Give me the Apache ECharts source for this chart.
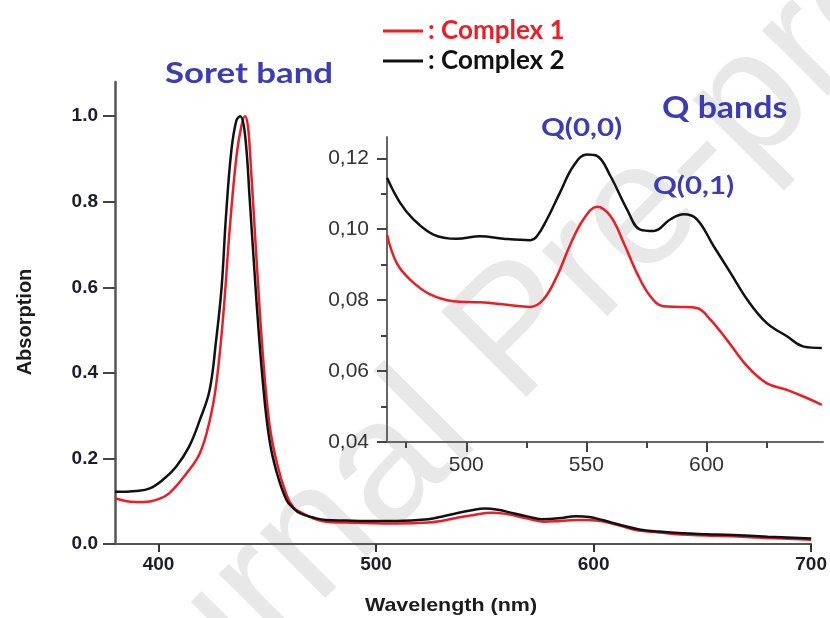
<!DOCTYPE html>
<html><head><meta charset="utf-8">
<script src="https://cdn.jsdelivr.net/npm/echarts@6/dist/echarts.min.js"></script>
<style>html,body{margin:0;padding:0;background:#fff}#c{width:830px;height:618px}</style>
</head><body><div id="c"></div>
<script>
// ---- main spectrum (Soret region + full range) ----
const wlComplex1 = [380,387,393,399,405,413,419,423.6,426.6,429.7,432.8,435.8,438,439.7,441,442,445,448,451,454.4,458.8,462,465,471,477,486,495,509,524,530,537,545,553,559,565,571,577,585,592,598,605,612,620,630,640,652,664,680,700];
const absComplex1 = [0.107,0.099,0.098,0.103,0.119,0.166,0.212,0.29,0.376,0.531,0.741,0.905,0.975,1.0,0.98,0.92,0.67,0.44,0.28,0.19,0.115,0.085,0.075,0.06,0.052,0.050,0.049,0.048,0.050,0.054,0.061,0.068,0.073,0.071,0.065,0.058,0.052,0.054,0.056,0.056,0.052,0.043,0.032,0.027,0.022,0.020,0.018,0.014,0.010];
const wlComplex2 = [380,390,396,402,408,414,419,423.5,426.5,429,431,433.5,435.8,437.5,439.7,442,445,448,451,454.4,458.8,462,465,471,477,486,495,509,524,531,537,544,550,556,563,570,576,584,592,598,604,612,621,630,641,652,664,680,700];
const absComplex2 = [0.122,0.124,0.13,0.15,0.18,0.227,0.29,0.36,0.477,0.60,0.765,0.92,0.99,1.0,0.96,0.80,0.57,0.376,0.243,0.166,0.103,0.084,0.072,0.062,0.056,0.055,0.054,0.054,0.058,0.065,0.072,0.079,0.083,0.080,0.072,0.064,0.058,0.060,0.065,0.063,0.056,0.045,0.034,0.029,0.025,0.023,0.021,0.017,0.013];
// ---- inset (Q bands) ----
const insetWl1 = [467,471,476.6,485,494.6,505.8,516.9,526.6,532,537.7,543,548.8,554.4,560,565.5,571,576.6,582,589,596,601.6,608.5,617,625,633.5,641.8,648];
const insetAbs1 = [0.0985,0.0905,0.0858,0.0816,0.0797,0.0794,0.0787,0.0781,0.0801,0.0867,0.0952,0.1028,0.1063,0.1037,0.0962,0.0877,0.0811,0.0783,0.0781,0.0778,0.0745,0.0688,0.0613,0.0566,0.0547,0.0524,0.0505];
const insetWl2 = [467,472.4,478,486.3,496,505.8,515.5,526.6,529.4,533.6,539,544.6,550.2,554.4,560,566.9,572.4,578,585,590.5,596,603,610,617,625,633.5,640.5,648];
const insetAbs2 = [0.1145,0.1075,0.1028,0.0985,0.0973,0.098,0.0973,0.0969,0.098,0.1028,0.1103,0.1178,0.1211,0.1207,0.115,0.1056,0.0999,0.0995,0.1028,0.1042,0.1028,0.0952,0.0877,0.0801,0.0736,0.0698,0.0669,0.0665];
// ---- ticks ----
const mainXTicks = [400,500,600,700];
const mainYTicks = [0,0.2,0.4,0.6,0.8,1.0];
const insetXTicks = [500,550,600];
const insetXMinor = [475,525,575,625];
const insetYTicks = [0.04,0.06,0.08,0.10,0.12];
const insetYMinor = [0.05,0.07,0.09,0.11];

const RED = '#ee1c25', BLACK = '#111111', BLUE = '#3b3cb8';
const zip = (a,b) => a.map((v,i)=>[v,b[i]]);
const chart = echarts.init(document.getElementById('c'));
const axisCol = '#555';
const mainLbl = {fontFamily:'Liberation Sans', fontWeight:'bold', fontSize:19, color:'#1c1c2a'};
const insLbl = {fontFamily:'Liberation Sans', fontSize:21, color:'#333'};
chart.setOption({
  animation:false,
  backgroundColor:'#fff',
  grid:[
    {left:115, right:18, top:82, bottom:74},
    {left:387, right:7, top:137, bottom:176}
  ],
  xAxis:[
    {gridIndex:0, type:'value', position:'bottom', min:380, max:700, splitLine:{show:false},
     axisLine:{lineStyle:{color:axisCol, width:2}},
     axisTick:{customValues:mainXTicks, length:8, lineStyle:{color:'#333', width:2}},
     axisLabel:Object.assign({customValues:mainXTicks, margin:11}, mainLbl)},
    {gridIndex:1, type:'value', position:'bottom', min:467, max:648.5, splitLine:{show:false},
     axisLine:{lineStyle:{color:'#666', width:2}},
     axisTick:{customValues:insetXTicks, length:10, lineStyle:{color:'#444', width:2}},
     axisLabel:Object.assign({customValues:insetXTicks, margin:13}, insLbl)},
    {gridIndex:1, type:'value', position:'bottom', min:467, max:648.5, splitLine:{show:false},
     axisLine:{show:false},
     axisTick:{customValues:insetXMinor, length:6, lineStyle:{color:'#444', width:2}},
     axisLabel:{show:false}}
  ],
  yAxis:[
    {gridIndex:0, type:'value', position:'left', min:0, max:1.08, splitLine:{show:false},
     axisLine:{show:true, lineStyle:{color:axisCol, width:2.5}},
     axisTick:{show:true, customValues:mainYTicks, length:12, lineStyle:{color:'#444', width:2}},
     axisLabel:Object.assign({customValues:mainYTicks, margin:17, formatter:v=>v.toFixed(1)}, mainLbl)},
    {gridIndex:1, type:'value', position:'left', min:0.04, max:0.126, splitLine:{show:false},
     axisLine:{show:true, lineStyle:{color:'#666', width:2}},
     axisTick:{show:true, customValues:insetYTicks, length:10, lineStyle:{color:'#444', width:2}},
     axisLabel:Object.assign({customValues:insetYTicks, margin:18, formatter:v=>v.toFixed(2).replace('.',',')}, insLbl)},
    {gridIndex:1, type:'value', position:'left', min:0.04, max:0.126, splitLine:{show:false},
     axisLine:{show:false},
     axisTick:{show:true, customValues:insetYMinor, length:6, lineStyle:{color:'#444', width:2}},
     axisLabel:{show:false}}
  ],
  legend:{
    orient:'vertical', left:378, top:13, itemWidth:40, itemHeight:3, itemGap:4, icon:'rect',
    formatter:': {name}',
    textStyle:{fontFamily:'Lato', fontWeight:'bold', fontSize:26},
    data:[{name:'Complex 1', textStyle:{color:RED}}, {name:'Complex 2', textStyle:{color:BLACK}}]
  },
  series:[
    {name:'Complex 1', type:'line', xAxisIndex:0, yAxisIndex:0, data:zip(wlComplex1,absComplex1), smooth:0.4, showSymbol:false, lineStyle:{color:RED, width:2.5}, itemStyle:{color:RED}, z:3},
    {name:'Complex 2', type:'line', xAxisIndex:0, yAxisIndex:0, data:zip(wlComplex2,absComplex2), smooth:0.4, showSymbol:false, lineStyle:{color:BLACK, width:2.5}, itemStyle:{color:BLACK}, z:4},
    {name:'Complex 1', type:'line', xAxisIndex:1, yAxisIndex:1, data:zip(insetWl1,insetAbs1), smooth:0.4, showSymbol:false, lineStyle:{color:RED, width:2.5}, itemStyle:{color:RED}, z:3},
    {name:'Complex 2', type:'line', xAxisIndex:1, yAxisIndex:1, data:zip(insetWl2,insetAbs2), smooth:0.4, showSymbol:false, lineStyle:{color:BLACK, width:2.5}, itemStyle:{color:BLACK}, z:4}
  ],
  graphic:[
    {type:'text', z:-10, x:520, y:335, rotation:Math.PI/4, silent:true,
     style:{text:'Journal Pre-proof', fill:'#e8e8e8', font:'175px "Liberation Sans"', textAlign:'center', textVerticalAlign:'middle'}},
    {type:'text', x:165, y:74, scaleX:1.2, style:{text:'Soret band', fill:BLUE, font:'bold 29px Lato', textVerticalAlign:'middle'}},
    {type:'text', x:662, y:108, scaleX:1.13, style:{text:'Q bands', fill:BLUE, font:'bold 30px Lato', textVerticalAlign:'middle'}},
    {type:'text', x:541, y:128, scaleX:1.18, style:{text:'Q(0,0)', fill:BLUE, font:'bold 25px Lato', textVerticalAlign:'middle'}},
    {type:'text', x:653, y:186, scaleX:1.18, style:{text:'Q(0,1)', fill:BLUE, font:'bold 25px Lato', textVerticalAlign:'middle'}},
    {type:'text', x:451, y:606, scaleX:1.13, style:{text:'Wavelength (nm)', fill:'#1c1c1c', font:'bold 19px "Liberation Sans"', textAlign:'center', textVerticalAlign:'middle'}},
    {type:'text', x:25, y:322, rotation:Math.PI/2, style:{text:'Absorption', fill:'#1c1c1c', font:'bold 20px "Liberation Sans"', textAlign:'center', textVerticalAlign:'middle'}}
  ]
});
</script></body></html>
